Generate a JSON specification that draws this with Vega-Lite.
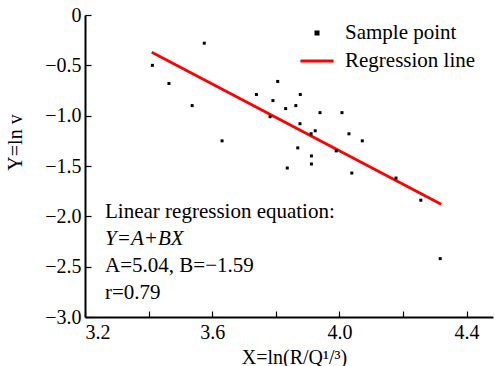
{
  "$schema": "https://vega.github.io/schema/vega-lite/v6.json",
  "width": 408,
  "height": 302,
  "autosize": {"type": "none"},
  "padding": {"left": 85, "top": 15, "right": 1, "bottom": 49},
  "background": "white",
  "config": {
    "view": {"stroke": null},
    "font": "Liberation Serif",
    "axis": {
      "labelFont": "Liberation Serif",
      "titleFont": "Liberation Serif",
      "labelFontSize": 20,
      "titleFontSize": 20,
      "titleFontWeight": "normal",
      "labelColor": "black",
      "titleColor": "black",
      "domainColor": "black",
      "domainWidth": 2,
      "tickColor": "black",
      "tickWidth": 1.2,
      "grid": false
    }
  },
  "datasets": {
    "points": [
      {"X": 3.412, "Y": -0.50, "series": "Sample point"},
      {"X": 3.464, "Y": -0.68, "series": "Sample point"},
      {"X": 3.575, "Y": -0.28, "series": "Sample point"},
      {"X": 3.537, "Y": -0.90, "series": "Sample point"},
      {"X": 3.631, "Y": -1.25, "series": "Sample point"},
      {"X": 3.739, "Y": -0.79, "series": "Sample point"},
      {"X": 3.806, "Y": -0.66, "series": "Sample point"},
      {"X": 3.791, "Y": -0.85, "series": "Sample point"},
      {"X": 3.831, "Y": -0.93, "series": "Sample point"},
      {"X": 3.782, "Y": -1.01, "series": "Sample point"},
      {"X": 3.877, "Y": -0.79, "series": "Sample point"},
      {"X": 3.863, "Y": -0.90, "series": "Sample point"},
      {"X": 3.939, "Y": -0.97, "series": "Sample point"},
      {"X": 4.008, "Y": -0.97, "series": "Sample point"},
      {"X": 3.876, "Y": -1.08, "series": "Sample point"},
      {"X": 3.911, "Y": -1.18, "series": "Sample point"},
      {"X": 3.924, "Y": -1.15, "series": "Sample point"},
      {"X": 4.030, "Y": -1.18, "series": "Sample point"},
      {"X": 4.072, "Y": -1.25, "series": "Sample point"},
      {"X": 3.869, "Y": -1.32, "series": "Sample point"},
      {"X": 3.912, "Y": -1.40, "series": "Sample point"},
      {"X": 3.912, "Y": -1.48, "series": "Sample point"},
      {"X": 3.836, "Y": -1.52, "series": "Sample point"},
      {"X": 3.990, "Y": -1.35, "series": "Sample point"},
      {"X": 4.039, "Y": -1.57, "series": "Sample point"},
      {"X": 4.178, "Y": -1.62, "series": "Sample point"},
      {"X": 4.256, "Y": -1.84, "series": "Sample point"},
      {"X": 4.317, "Y": -2.42, "series": "Sample point"}
    ],
    "line": [
      {"X": 3.41, "Y": -0.37, "series": "Regression line"},
      {"X": 4.32, "Y": -1.88, "series": "Regression line"}
    ],
    "noteTitle": [{"note": "Linear regression equation:"}],
    "noteEquation": [{"note": "Y=A+BX"}],
    "noteValues": [{"note": ["A=5.04, B=−1.59", "r=0.79"]}]
  },
  "layer": [
    {
      "data": {"name": "line"},
      "mark": {"type": "line", "strokeWidth": 2.8},
      "encoding": {
        "x": {
          "field": "X",
          "type": "quantitative",
          "scale": {"domain": [3.2, 4.483], "nice": false, "zero": false},
          "axis": {
            "title": "X=ln(R/Q¹/³)",
            "values": [3.2, 3.4, 3.6, 3.8, 4.0, 4.2, 4.4],
            "labelExpr": "round(datum.value*10)%4==0 ? format(datum.value,'.1f') : ''",
            "tickSize": -6,
            "labelPadding": 11,
            "titleX": 209,
            "titleY": 40,
            "titleBaseline": "middle",
            "encode": {"ticks": {"update": {"y2": {"signal": "round(datum.value*10)%4==0 ? -6 : -3"}}}}
          }
        },
        "y": {
          "field": "Y",
          "type": "quantitative",
          "scale": {"domain": [-3, 0], "nice": false, "zero": false},
          "axis": {
            "title": "Y=ln v",
            "values": [0, -0.25, -0.5, -0.75, -1, -1.25, -1.5, -1.75, -2, -2.25, -2.5, -2.75, -3],
            "labelExpr": "round(datum.value*100)%50==0 ? (datum.value==0 ? '0' : format(datum.value,'.1f')) : ''",
            "tickSize": -6,
            "labelPadding": 10,
            "titleX": -70,
            "titleY": 127,
            "titleBaseline": "middle",
            "encode": {"ticks": {"update": {"x2": {"signal": "round(datum.value*100)%50==0 ? 6 : 4"}}}}
          }
        },
        "color": {
          "field": "series",
          "type": "nominal",
          "scale": {"domain": ["Sample point", "Regression line"], "range": ["black", "red"]},
          "legend": {
            "title": null,
            "orient": "none",
            "legendX": 214,
            "legendY": 0,
            "padding": 0,
            "labelFont": "Liberation Serif",
            "labelFontSize": 21,
            "labelColor": "black",
            "labelOffset": 10,
            "rowPadding": -1,
            "symbolSize": 1100,
            "symbolStrokeWidth": 2.8,
            "encode": {
              "symbols": {
                "update": {
                  "shape": {"signal": "datum.value==='Sample point' ? 'square' : 'stroke'"},
                  "size": {"signal": "datum.value==='Sample point' ? 5 : 1100"},
                  "fill": {"signal": "datum.value==='Sample point' ? 'black' : 'transparent'"},
                  "stroke": {"signal": "datum.value==='Sample point' ? 'transparent' : 'red'"},
                  "strokeWidth": {"value": 2.8}
                }
              }
            }
          }
        }
      }
    },
    {
      "data": {"name": "points"},
      "mark": {"type": "point", "shape": "square", "filled": true, "size": 9, "opacity": 1},
      "encoding": {
        "x": {"field": "X", "type": "quantitative"},
        "y": {"field": "Y", "type": "quantitative"},
        "color": {"field": "series", "type": "nominal"}
      }
    },
    {
      "data": {"name": "noteTitle"},
      "mark": {"type": "text", "align": "left", "baseline": "alphabetic", "font": "Liberation Serif", "fontSize": 21, "color": "black"},
      "encoding": {
        "x": {"datum": 3.263, "type": "quantitative"},
        "y": {"datum": -2.019, "type": "quantitative"},
        "text": {"field": "note"}
      }
    },
    {
      "data": {"name": "noteEquation"},
      "mark": {"type": "text", "align": "left", "baseline": "alphabetic", "font": "Liberation Serif", "fontStyle": "italic", "fontSize": 21, "color": "black"},
      "encoding": {
        "x": {"datum": 3.263, "type": "quantitative"},
        "y": {"datum": -2.286, "type": "quantitative"},
        "text": {"field": "note"}
      }
    },
    {
      "data": {"name": "noteValues"},
      "mark": {"type": "text", "align": "left", "baseline": "alphabetic", "font": "Liberation Serif", "fontSize": 21, "lineHeight": 26.8, "color": "black"},
      "encoding": {
        "x": {"datum": 3.263, "type": "quantitative"},
        "y": {"datum": -2.553, "type": "quantitative"},
        "text": {"field": "note"}
      }
    }
  ]
}
